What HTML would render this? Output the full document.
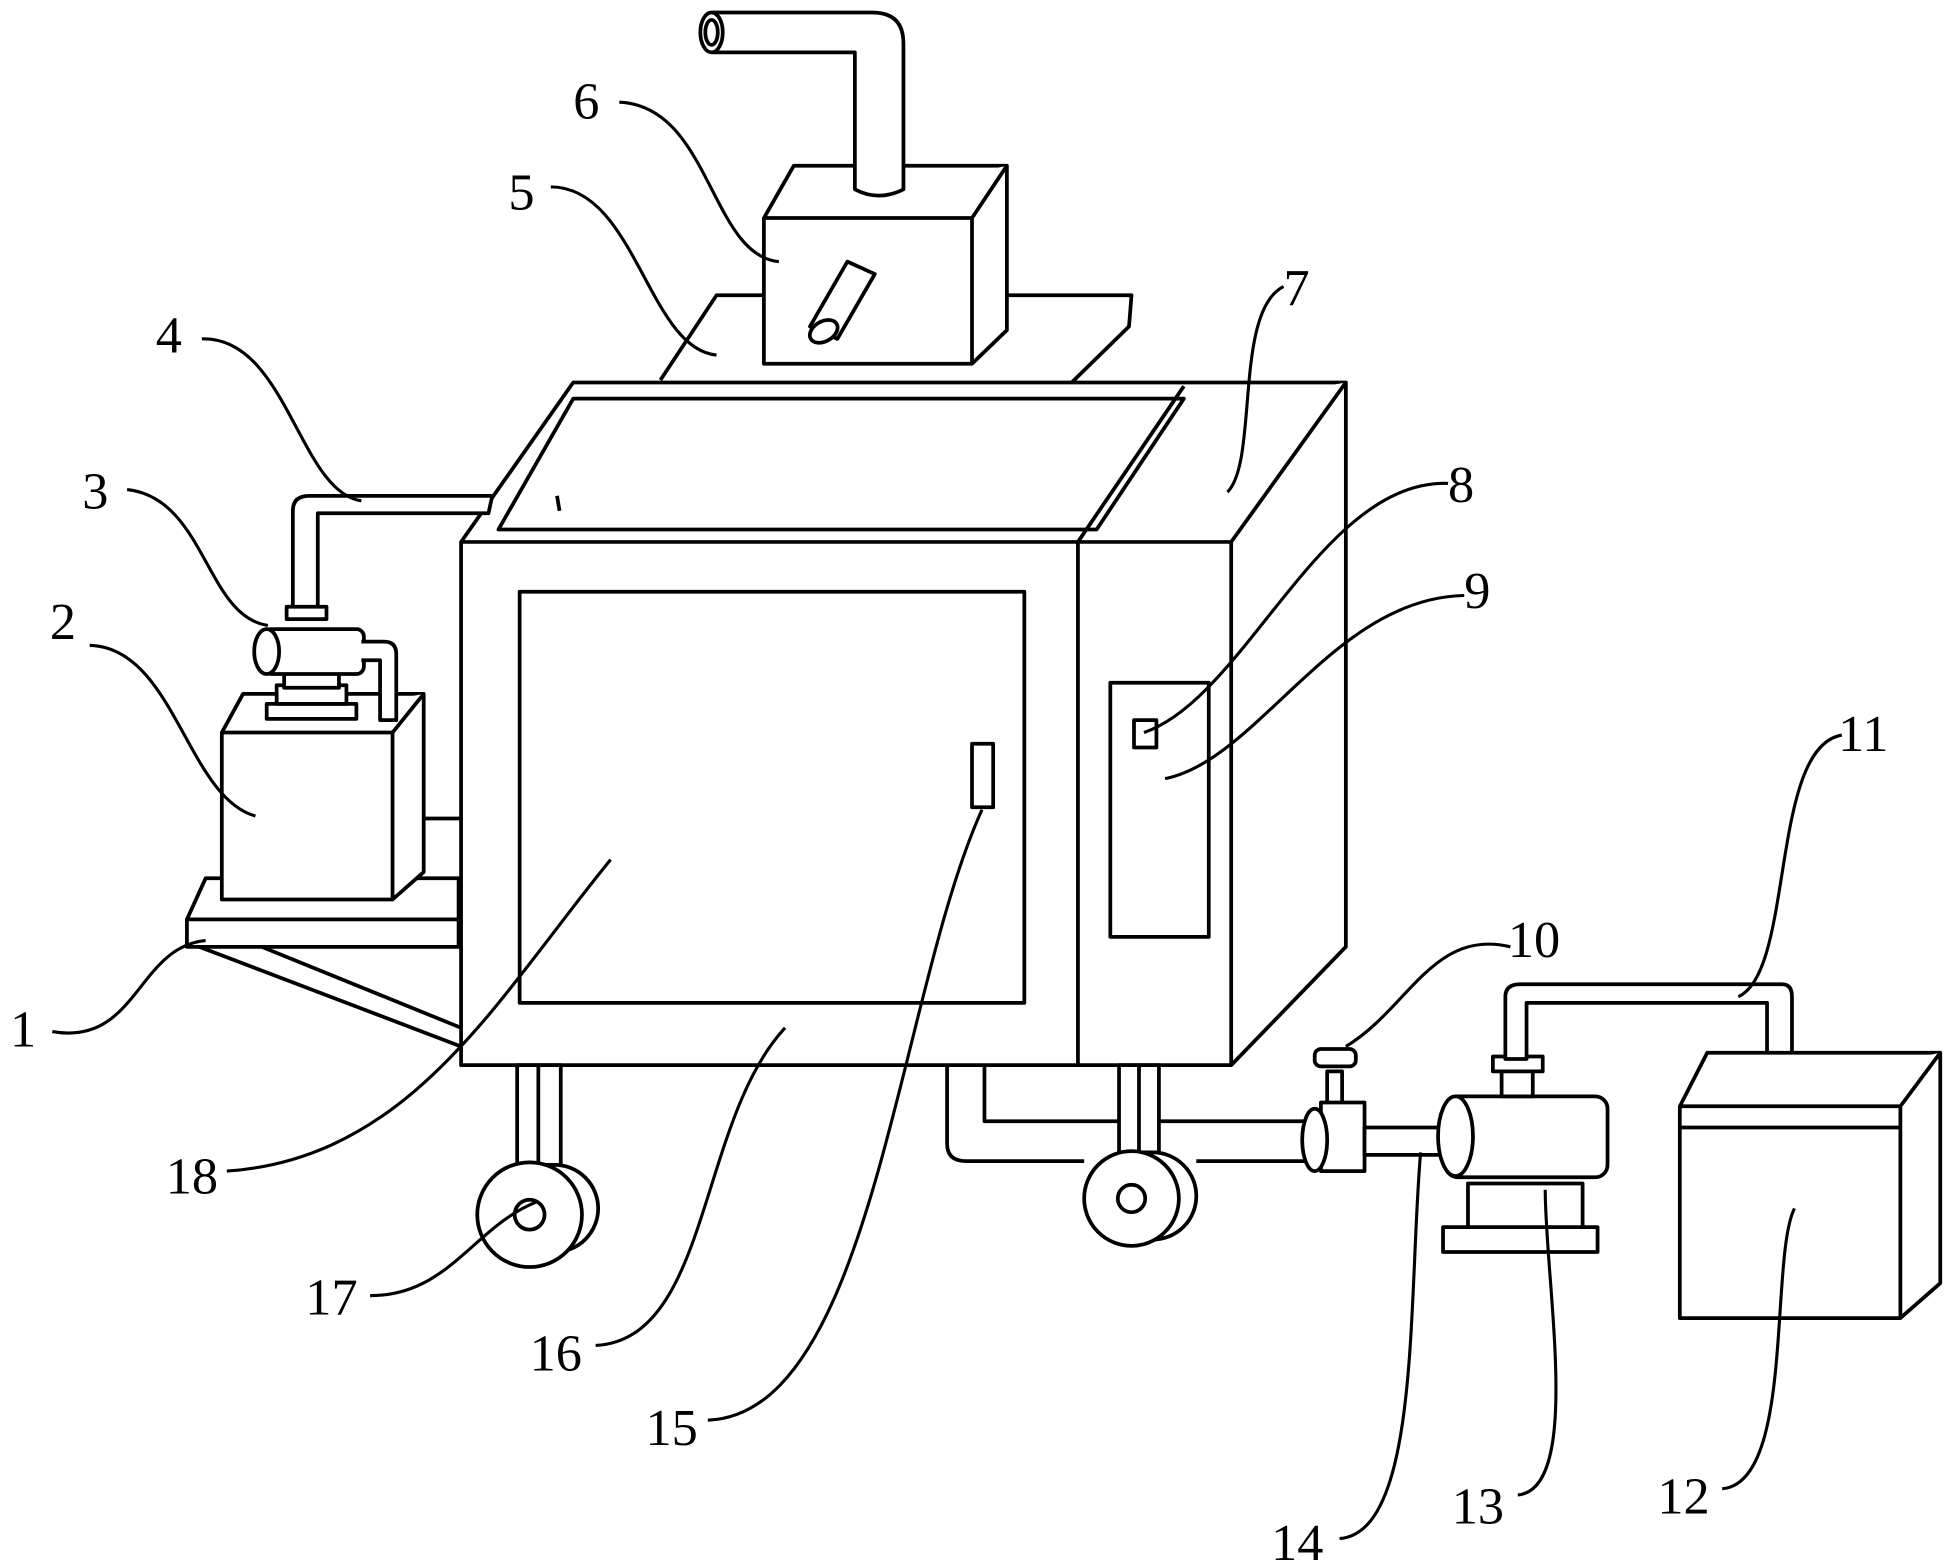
<!DOCTYPE html>
<html><head><meta charset="utf-8"><style>
html,body{margin:0;padding:0;background:#fff;}
svg{display:block;}
text{font-family:"Liberation Serif",serif;font-size:42px;fill:#000;}
</style></head><body>
<svg width="1944" height="1566" viewBox="0 0 1560 1257" preserveAspectRatio="none" xmlns="http://www.w3.org/2000/svg">
<g fill="#fff" stroke="#000" stroke-width="3" stroke-linejoin="round">
<path d="M530,305 L575,237 L908,237 L906,262 L860,307"/>
<path d="M613,175 L637,133 L808,133 L808,265 L780,292 L613,292 Z"/>
<path d="M613,175 L780,175 L808,133 M780,175 L780,292"/>
<path d="M686,152 L686,42 L572,42 L572,10 L700,10 Q725,10 725,35 L725,152 Q705,162 686,152 Z"/>
<ellipse cx="571" cy="26" rx="9" ry="16"/>
<ellipse cx="571" cy="26" rx="5" ry="10"/>
<path d="M650,262 L680,210 L702,220 L672,272 Z"/>
<ellipse cx="661" cy="266" rx="12" ry="8" transform="rotate(-30 661 266)"/>
<path d="M370,435 L460,307 L1080,307 L1080,760 L988,855 L370,855 Z"/>
<path d="M370,435 L988,435 L1080,307 M988,435 L988,855 M865,435 L865,855 M865,435 L950,310"/>
<path d="M400,425 L460,320 L950,320 L880,425 Z" fill="none"/>
<path d="M447,398 L449,410" fill="none"/>
<rect x="417" y="475" width="405" height="330"/>
<rect x="780" y="597" width="17" height="51"/>
<rect x="891" y="548" width="79" height="204"/>
<rect x="910" y="578" width="18" height="22"/>
<path d="M160,760 L370,840 M210,760 L370,825" fill="none"/>
<path d="M150,738 L165,705 L368,705 L368,740 Z" fill="none"/>
<rect x="150" y="738" width="218" height="22"/>
<path d="M178,588 L195,557 L340,557 L340,700 L315,722 L178,722 Z"/>
<path d="M178,588 L315,588 L340,557 M315,588 L315,722"/>
<path d="M340,657 L370,657" fill="none"/>
<rect x="214" y="565" width="72" height="12"/>
<rect x="222" y="550" width="56" height="15"/>
<rect x="228" y="540" width="44" height="12"/>
<rect x="212" y="505" width="80" height="36" rx="6"/>
<ellipse cx="214" cy="523" rx="10" ry="18"/>
<path d="M290,515 L308,515 Q318,515 318,525 L318,578 L305,578 L305,530 L290,530"/>
<path d="M235,490 L235,410 Q235,398 248,398 L395,398 L392,412 L255,412 L255,490 Z"/>
<rect x="230" y="487" width="32" height="10"/>
<rect x="415" y="855" width="35" height="80"/>
<line x1="432" y1="855" x2="432" y2="935"/>
<circle cx="445" cy="970" r="35"/>
<circle cx="425" cy="975" r="42"/>
<circle cx="425" cy="975" r="12"/>
<rect x="898" y="855" width="32" height="70"/>
<line x1="914" y1="855" x2="914" y2="925"/>
<circle cx="925" cy="960" r="35"/>
<circle cx="908" cy="962" r="38"/>
<circle cx="908" cy="962" r="11"/>
<path d="M760,855 L760,918 Q760,932 775,932 L870,932 M790,855 L790,900 L898,900 M930,900 L1050,900 M960,932 L1050,932" fill="none"/>
<rect x="1065" y="860" width="12" height="35"/>
<rect x="1055" y="842" width="33" height="14" rx="5"/>
<rect x="1060" y="885" width="35" height="55"/>
<ellipse cx="1055" cy="915" rx="10" ry="25"/>
<rect x="1095" y="905" width="70" height="22"/>
<rect x="1158" y="985" width="124" height="20"/>
<rect x="1178" y="950" width="92" height="35"/>
<rect x="1160" y="880" width="130" height="65" rx="10"/>
<ellipse cx="1168" cy="912" rx="14" ry="32"/>
<rect x="1205" y="855" width="25" height="25"/>
<rect x="1198" y="848" width="40" height="12"/>
<path d="M1208,850 L1208,800 Q1208,790 1220,790 L1430,790 Q1438,790 1438,800 L1438,870 Q1428,878 1418,870 L1418,805 L1225,805 L1225,850 Z"/>
<path d="M1348,888 L1370,845 L1557,845 L1557,1030 L1525,1058 L1348,1058 Z"/>
<path d="M1348,888 L1525,888 L1557,845 M1525,888 L1525,1058 M1348,905 L1525,905"/>
</g>
<g fill="none" stroke="#000" stroke-width="2.5">
<path d="M42,828 C110,840 110,760 165,755"/>
<path d="M72,518 C140,520 150,640 205,655"/>
<path d="M102,393 C165,400 165,495 215,502"/>
<path d="M162,272 C230,270 240,395 290,402"/>
<path d="M442,150 C510,150 520,280 575,285"/>
<path d="M497,82 C570,85 570,205 625,210"/>
<path d="M1030,230 C990,250 1010,370 985,395"/>
<path d="M1162,388 C1060,385 1000,560 918,588"/>
<path d="M1175,478 C1070,480 1010,610 935,625"/>
<path d="M1212,760 C1150,745 1130,810 1080,840"/>
<path d="M1478,590 C1420,600 1440,780 1395,800"/>
<path d="M1382,1195 C1440,1190 1420,1010 1440,970"/>
<path d="M1218,1200 C1270,1195 1240,1030 1240,955"/>
<path d="M1075,1235 C1140,1230 1130,1040 1140,925"/>
<path d="M568,1140 C700,1135 720,800 788,650"/>
<path d="M478,1080 C570,1075 560,900 630,825"/>
<path d="M297,1040 C360,1040 380,985 430,965"/>
<path d="M182,940 C330,930 400,800 490,690"/>
</g>
<g>
<text x="8" y="840">1</text>
<text x="40" y="513">2</text>
<text x="66" y="408">3</text>
<text x="125" y="283">4</text>
<text x="408" y="168">5</text>
<text x="460" y="95">6</text>
<text x="1030" y="245">7</text>
<text x="1162" y="403">8</text>
<text x="1175" y="488">9</text>
<text x="1210" y="768">10</text>
<text x="1475" y="603">11</text>
<text x="1330" y="1215">12</text>
<text x="1165" y="1223">13</text>
<text x="1020" y="1252">14</text>
<text x="518" y="1160">15</text>
<text x="425" y="1100">16</text>
<text x="245" y="1055">17</text>
<text x="133" y="958">18</text>
</g>
</svg>
</body></html>
